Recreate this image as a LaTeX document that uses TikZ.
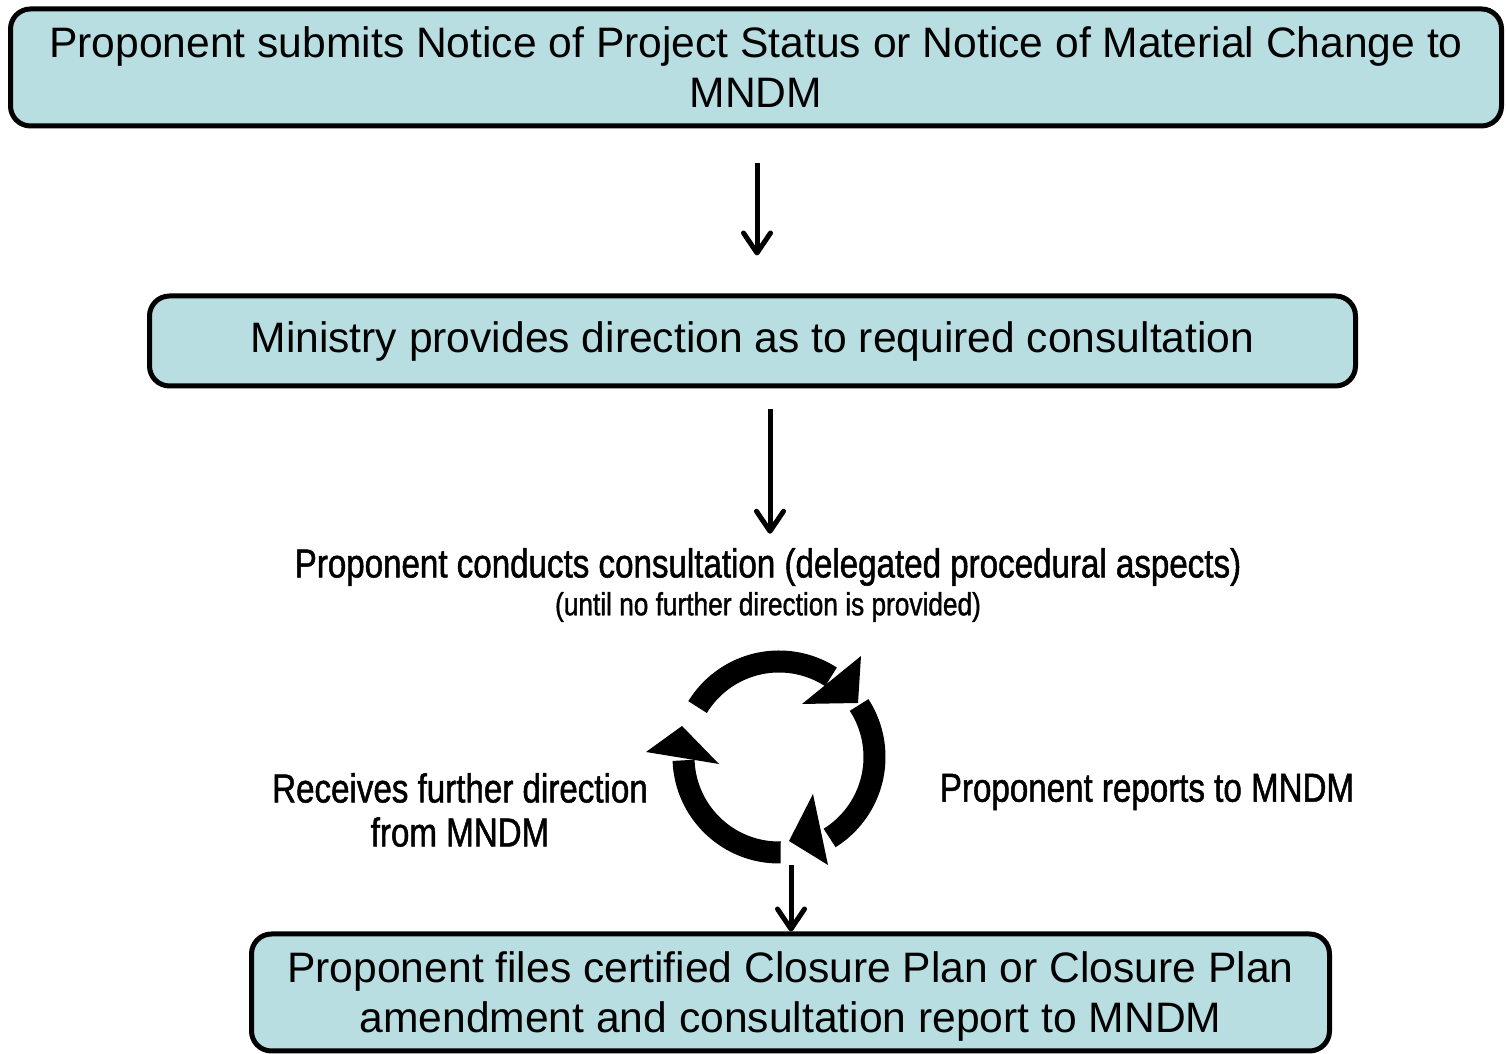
\documentclass[tikz,border=0pt]{standalone}
\usepackage{fontspec}
\usepackage{xcolor}
\usepackage{tikz}
\usetikzlibrary{arrows.meta}
\setmainfont{Liberation Sans}
\newfontfamily\narrowfont[FakeStretch=0.82, FakeBold=1.2]{Liberation Sans}
\definecolor{boxfill}{RGB}{184,222,225}

\tikzset{
  stagebox/.style={draw=black, line width=2.5pt, fill=boxfill,
    rounded corners=10pt, align=center, inner sep=0pt,
    font=\fontsize{21.3}{25}\selectfont},
  flow/.style={line width=2.5pt,
    -{Straight Barb[round, length=10pt, width=13.5pt]}},
  note/.style={align=center, inner sep=0pt,
    font=\narrowfont\fontsize{20.2}{22}\selectfont},
  loop/.style={line width=11pt},
}

\begin{document}
\begin{tikzpicture}[x=0.5pt, y=0.5pt]
  \clip (0,0) rectangle (1506,1054);
  %
  \node[stagebox, minimum width=745.5pt, minimum height=58.5pt] (notice) at (756,986.5)
    {Proponent submits Notice of Project Status or Notice of Material Change to\\MNDM};
  \node[stagebox, minimum width=603pt, minimum height=45pt] (direction) at (752.5,713)
    {Ministry provides direction as to required consultation};
  \node[stagebox, minimum width=539pt, minimum height=58.5pt, text depth=0pt] (closure) at (790.5,61.5)
    {Proponent files certified Closure Plan or Closure Plan\\amendment and consultation report to MNDM};
  %
  \node[note] (consult) at (768,487)
    {Proponent conducts consultation (delegated procedural aspects)};
  \node[note, font=\narrowfont\fontsize{16}{18}\selectfont] (until) at (768,447)
    {(until no further direction is provided)};
  \node[note] (receives) at (460,244) {Receives further direction\\from MNDM};
  \node[note] (reports) at (1147,262) {Proponent reports to MNDM};
  %
  % the consultation loop
  \coordinate (cyc) at (779,297);
  \draw[loop] (cyc) ++(148.5:95.5) arc[start angle=148.5, end angle=57, radius=95.5];
  \fill (861,398) -- (858,351) -- (802,350) -- cycle;
  \draw[loop] (cyc) ++(33:95.5) arc[start angle=33, end angle=-58, radius=95.5];
  \fill (813,260) -- (789,213) -- (828,189) -- cycle;
  \draw[loop] (cyc) ++(-89:95.5) arc[start angle=-89, end angle=-178, radius=95.5];
  \fill (682,328) -- (646,302) -- (719,290) -- cycle;
  \coordinate (cycbottom) at (791,189);
  %
  \draw[flow] ([xshift=0.5pt]notice.south) ++(0,-35) -- ([xshift=0.5pt, yshift=19pt]notice.south |- direction.north);
  \draw[flow] ([xshift=8.75pt, yshift=-10.5pt]direction.south) -- ([xshift=8.75pt, yshift=7pt]direction.south |- consult.north);
  \draw[flow] (cycbottom) -- (cycbottom |- closure.north);
\end{tikzpicture}
\end{document}
